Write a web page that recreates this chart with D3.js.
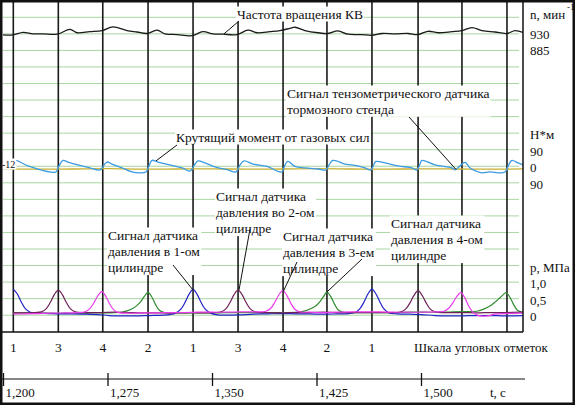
<!DOCTYPE html>
<html>
<head>
<meta charset="utf-8">
<script src="https://cdn.jsdelivr.net/npm/d3@7"></script>
<style>
  body { margin: 0; background: #fff; }
  svg { display: block; }
  svg text { font-family: "Liberation Serif", "Times New Roman", "DejaVu Serif", serif; }
</style>
</head>
<body>
<div id="chart"></div>
<script>
// angle marks (s) and cylinder numbers, firing order 1-3-4-2
const angleMarks = [1.2074, 1.2397, 1.2716, 1.3041, 1.3364, 1.3687, 1.4010, 1.4325, 1.4648, 1.4979, 1.5294, 1.5617];
const cylinders = [1, 3, 4, 2, 1, 3, 4, 2, 1, 3, 4, 2];
const shownMarks = 9;

const timeTicks = [1.2, 1.275, 1.35, 1.425, 1.5];
const rpmTicks = [930, 885];
const torqueTicks = [90, 0, -90];
const pressureTicks = [1.0, 0.5, 0];

// crankshaft speed, min^-1
const rpm = [
  [1.2000, 927], [1.2072, 927], [1.2144, 934], [1.2215, 930], [1.2287, 930], [1.2388, 929],
  [1.2481, 942], [1.2531, 933], [1.2624, 936], [1.2711, 939], [1.2789, 949], [1.2890, 939],
  [1.2962, 935], [1.3034, 931], [1.3105, 940], [1.3163, 930], [1.3249, 928], [1.3356, 925],
  [1.3435, 936], [1.3507, 930], [1.3579, 929], [1.3679, 928], [1.3758, 940], [1.3823, 933],
  [1.3916, 936], [1.3988, 939], [1.4060, 945], [1.4096, 948], [1.4167, 939], [1.4261, 933],
  [1.4333, 931], [1.4404, 938], [1.4476, 929], [1.4577, 928], [1.4648, 926], [1.4720, 931],
  [1.4813, 930], [1.4907, 931], [1.4978, 928], [1.5050, 937], [1.5122, 933], [1.5222, 936],
  [1.5294, 939], [1.5366, 947], [1.5438, 939], [1.5531, 935], [1.5617, 931], [1.5675, 939],
  [1.5732, 934]
];

// torque from gas forces, N*m
const torque = [
  [1.2007, 2], [1.2050, 18], [1.2093, 32], [1.2122, 23], [1.2179, 2], [1.2251, -15], [1.2337, -31], [1.2380, -31],
  [1.2402, 2], [1.2431, 32], [1.2466, 23], [1.2538, 7], [1.2624, -9], [1.2696, -20],
  [1.2725, 7], [1.2746, 23], [1.2782, 12], [1.2854, -9], [1.2926, -31], [1.2983, -36], [1.3026, -31],
  [1.3048, 2], [1.3069, 32], [1.3112, 23], [1.3199, 7], [1.3285, -9], [1.3342, -26],
  [1.3378, 12], [1.3400, 29], [1.3450, 18], [1.3522, -4], [1.3615, -20], [1.3672, -31],
  [1.3701, 7], [1.3730, 29], [1.3794, 12], [1.3895, -1], [1.3974, -28], [1.4002, -31],
  [1.4024, 7], [1.4045, 26], [1.4096, -1], [1.4167, -9], [1.4261, -15], [1.4318, -20],
  [1.4340, 7], [1.4368, 32], [1.4455, 12], [1.4505, 7], [1.4598, -9], [1.4641, -20],
  [1.4663, 12], [1.4677, 26], [1.4742, 18], [1.4835, 2], [1.4935, -9], [1.4971, -20],
  [1.4993, 12], [1.5007, 32], [1.5100, 7], [1.5222, -9], [1.5244, -20],
  [1.5280, 2], [1.5316, 21], [1.5352, -9], [1.5395, -26], [1.5438, -36], [1.5495, -31], [1.5553, -36], [1.5603, -31],
  [1.5632, 12], [1.5653, 32], [1.5696, 18], [1.5732, 7]
];

// brake stand strain gauge signal
const brake = [
  [1.200, -14], [1.225, -16], [1.250, -15], [1.275, -13], [1.300, -16], [1.325, -15], [1.350, -14], [1.375, -16],
  [1.400, -15], [1.425, -13], [1.450, -15], [1.475, -16], [1.500, -14], [1.525, -15], [1.550, -16], [1.575, -14]
];

// cylinder pressure, MPa
const p1 = [
  [1.2074, 0.79], [1.2103, 0.64], [1.2131, 0.40], [1.2160, 0.20], [1.2196, 0.09], [1.2250, 0.06], [1.2330, 0.05],
  [1.2420, 0.04], [1.2500, 0.04], [1.2600, 0.03], [1.2680, 0.02], [1.2760, -0.01], [1.2850, -0.02], [1.2950, -0.02],
  [1.3050, -0.01], [1.3150, 0.00], [1.3200, 0.02], [1.3242, 0.07], [1.3278, 0.19], [1.3307, 0.39], [1.3335, 0.63],
  [1.3364, 0.78], [1.3393, 0.63], [1.3421, 0.39], [1.3450, 0.19], [1.3486, 0.07], [1.3540, 0.01], [1.3620, 0.00],
  [1.3700, 0.01], [1.3800, 0.03], [1.3900, 0.04], [1.4000, 0.05], [1.4100, 0.04], [1.4200, 0.04], [1.4300, 0.03],
  [1.4400, 0.04], [1.4480, 0.05], [1.4526, 0.08], [1.4562, 0.20], [1.4591, 0.40], [1.4619, 0.64], [1.4648, 0.79],
  [1.4677, 0.64], [1.4705, 0.40], [1.4734, 0.19], [1.4770, 0.07], [1.4830, 0.04], [1.4920, 0.03], [1.5000, 0.02],
  [1.5100, -0.01], [1.5200, -0.02], [1.5300, -0.02], [1.5400, -0.01], [1.5500, -0.01], [1.5600, -0.02], [1.5730, -0.01]
];
const p2 = [
  [1.2074, 0.07], [1.2150, 0.07], [1.2250, 0.07], [1.2350, 0.06], [1.2450, 0.06], [1.2550, 0.06], [1.2650, 0.07],
  [1.2750, 0.07], [1.2850, 0.09], [1.2890, 0.13], [1.2930, 0.20], [1.2960, 0.29], [1.2987, 0.40], [1.3013, 0.56],
  [1.3041, 0.69], [1.3068, 0.55], [1.3095, 0.32], [1.3122, 0.15], [1.3160, 0.08], [1.3250, 0.06], [1.3350, 0.07],
  [1.3450, 0.07], [1.3550, 0.07], [1.3650, 0.08], [1.3750, 0.08], [1.3850, 0.08], [1.3950, 0.08], [1.4050, 0.08],
  [1.4130, 0.10], [1.4175, 0.14], [1.4215, 0.21], [1.4250, 0.30], [1.4275, 0.41], [1.4300, 0.56], [1.4325, 0.70],
  [1.4353, 0.56], [1.4381, 0.32], [1.4408, 0.15], [1.4445, 0.09], [1.4530, 0.08], [1.4630, 0.08], [1.4730, 0.08],
  [1.4830, 0.08], [1.4930, 0.09], [1.5030, 0.09], [1.5130, 0.09], [1.5230, 0.10], [1.5320, 0.11], [1.5400, 0.12],
  [1.5455, 0.19], [1.5500, 0.29], [1.5535, 0.41], [1.5560, 0.50], [1.5585, 0.60], [1.5610, 0.68], [1.5637, 0.55],
  [1.5665, 0.32], [1.5692, 0.15], [1.5730, 0.09]
];
const p3 = [
  [1.2074, 0.08], [1.2150, 0.07], [1.2230, 0.08], [1.2275, 0.10], [1.2311, 0.20], [1.2340, 0.39], [1.2368, 0.62],
  [1.2397, 0.76], [1.2426, 0.62], [1.2454, 0.39], [1.2483, 0.20], [1.2519, 0.10], [1.2600, 0.08], [1.2700, 0.08],
  [1.2800, 0.09], [1.2900, 0.08], [1.3000, 0.07], [1.3100, 0.07], [1.3200, 0.07], [1.3300, 0.08], [1.3400, 0.07],
  [1.3500, 0.08], [1.3565, 0.10], [1.3601, 0.20], [1.3630, 0.39], [1.3658, 0.62], [1.3687, 0.76], [1.3716, 0.62],
  [1.3744, 0.39], [1.3773, 0.20], [1.3809, 0.10], [1.3900, 0.08], [1.4000, 0.07], [1.4100, 0.08], [1.4200, 0.08],
  [1.4300, 0.09], [1.4400, 0.08], [1.4500, 0.08], [1.4600, 0.08], [1.4700, 0.08], [1.4800, 0.08], [1.4857, 0.10],
  [1.4893, 0.20], [1.4922, 0.38], [1.4950, 0.60], [1.4979, 0.74], [1.5008, 0.60], [1.5036, 0.38], [1.5065, 0.19],
  [1.5101, 0.10], [1.5200, 0.08], [1.5300, 0.08], [1.5400, 0.07], [1.5500, 0.08], [1.5600, 0.08], [1.5730, 0.09]
];
const p4 = [
  [1.2074, 0.03], [1.2150, 0.04], [1.2250, 0.05], [1.2350, 0.06], [1.2440, 0.07], [1.2530, 0.08], [1.2587, 0.10],
  [1.2623, 0.20], [1.2652, 0.37], [1.2680, 0.58], [1.2709, 0.71], [1.2738, 0.57], [1.2766, 0.34], [1.2795, 0.16],
  [1.2831, 0.08], [1.2900, 0.06], [1.3000, 0.07], [1.3100, 0.07], [1.3200, 0.08], [1.3300, 0.08], [1.3400, 0.09],
  [1.3500, 0.09], [1.3600, 0.09], [1.3700, 0.10], [1.3800, 0.10], [1.3886, 0.12], [1.3922, 0.21], [1.3951, 0.39],
  [1.3979, 0.61], [1.4008, 0.74], [1.4037, 0.60], [1.4065, 0.37], [1.4094, 0.18], [1.4130, 0.10], [1.4200, 0.09],
  [1.4300, 0.08], [1.4400, 0.09], [1.4500, 0.10], [1.4600, 0.10], [1.4700, 0.10], [1.4800, 0.09], [1.4900, 0.09],
  [1.5000, 0.09], [1.5100, 0.10], [1.5163, 0.12], [1.5199, 0.21], [1.5228, 0.37], [1.5256, 0.56], [1.5285, 0.68],
  [1.5314, 0.53], [1.5342, 0.28], [1.5371, 0.10], [1.5400, 0.01], [1.5440, -0.03], [1.5480, -0.02], [1.5530, 0.03],
  [1.5600, 0.05], [1.5730, 0.06]
];

const width = 575, height = 405;
const plot = {left: 3, right: 523, top: 0, bottom: 332};
const serif = "Liberation Serif, Times New Roman, DejaVu Serif, serif";

const svg = d3.select("#chart").append("svg")
  .attr("width", width)
  .attr("height", height)
  .attr("font-family", serif);

const x = d3.scaleLinear().domain([1.2, 1.575]).range([3, 525.5]);
// 19 green grid rows; every trace is pinned to them
const grid = d3.scaleLinear().domain([0, 18]).range([17.3, 315.2]);
const yRpm = d3.scaleLinear().domain([930, 885]).range([grid(1), grid(2)]);
const yTorque = d3.scaleLinear().domain([90, -90]).range([grid(8), grid(10)]);
const yP = d3.scaleLinear().domain([1, 0]).range([grid(16), grid(18)]);

svg.append("clipPath").attr("id", "clip")
  .append("rect")
  .attr("x", plot.left).attr("y", plot.top)
  .attr("width", plot.right - plot.left).attr("height", plot.bottom - plot.top);

// grid
svg.append("g")
  .selectAll("line")
  .data(d3.range(19))
  .join("line")
  .attr("x1", plot.left).attr("x2", plot.right - 4)
  .attr("y1", d => grid(d)).attr("y2", d => grid(d))
  .attr("stroke", "#a9d6a2")
  .attr("stroke-width", 1);

// angle marks
svg.append("g")
  .selectAll("line")
  .data(angleMarks)
  .join("line")
  .attr("x1", d => x(d)).attr("x2", d => x(d))
  .attr("y1", plot.top).attr("y2", plot.bottom)
  .attr("stroke", "#1a1a1a")
  .attr("stroke-width", 1.6);

const curves = svg.append("g").attr("clip-path", "url(#clip)");

function trace(data, yScale, color, w) {
  curves.append("path")
    .datum(data)
    .attr("fill", "none")
    .attr("stroke", color)
    .attr("stroke-width", w)
    .attr("stroke-linejoin", "round")
    .attr("d", d3.line()
      .x(d => x(d[0]))
      .y(d => yScale(d[1]))
      .curve(d3.curveCatmullRom.alpha(0.5)));
}

trace(rpm, yRpm, "#1a1a1a", 1.3);
trace(brake, yTorque, "#c8b030", 1.3);
trace(torque, yTorque, "#3d9be0", 1.3);
trace(p2, yP, "#2e8b2e", 1.2);
trace(p1, yP, "#2323c8", 1.2);
trace(p3, yP, "#6e2258", 1.2);
trace(p4, yP, "#ec3bec", 1.2);

// annotations: text placed in pixels, leader ends on the data
const notes = [
  {lines: ["Частота вращения КВ"], x: 237, y: 18.5, from: [239, 21], to: [1.3586, yRpm(930)]},
  {lines: ["Сигнал тензометрического датчика", "тормозного стенда"], x: 287, y: 97.5, from: [409, 117], to: [1.5251, yTorque(-17)]},
  {lines: ["Крутящий момент от газовых сил"], x: 176, y: 141.5, from: [177, 145], to: [1.3098, yTorque(29)]},
  {lines: ["Сигнал датчика", "давления во 2-ом", "цилиндре"], x: 216, y: 200.5, from: [250, 229], to: [1.3694, yP(0.76)]},
  {lines: ["Сигнал датчика", "давления в 4-ом", "цилиндре"], x: 391, y: 227.5, from: [362, 259], to: [1.4325, yP(0.70)]},
  {lines: ["Сигнал датчика", "давления в 1-ом", "цилиндре"], x: 108, y: 239.5, from: [173, 265], to: [1.3364, yP(0.76)]},
  {lines: ["Сигнал датчика", "давления в 3-ем", "цилиндре"], x: 283, y: 240.5, from: [297, 262], to: [1.4010, yP(0.70)]}
];

const noteG = svg.append("g");
notes.forEach(n => {
  const g = noteG.append("g");
  const t = g.append("text")
    .attr("font-size", 13.5)
    .attr("fill", "#111");
  n.lines.forEach((s, i) => {
    t.append("tspan").attr("x", n.x).attr("y", n.y + i * 16.3).text(s);
  });
  const b = t.node().getBBox();
  g.insert("rect", "text")
    .attr("x", b.x - 1).attr("y", b.y)
    .attr("width", b.width + 2).attr("height", b.height)
    .attr("fill", "#fff");
});
notes.forEach(n => {
  noteG.append("line")
    .attr("x1", n.from[0]).attr("y1", n.from[1])
    .attr("x2", x(n.to[0])).attr("y2", n.to[1])
    .attr("stroke", "#111")
    .attr("stroke-width", 1);
});

// "-12" tag at left edge
const tagG = svg.append("g");
const tag = tagG.append("text")
  .attr("x", 2).attr("y", 167.5)
  .attr("font-size", 10)
  .attr("fill", "#111")
  .text("-12");
const tb = tag.node().getBBox();
tagG.insert("rect", "text")
  .attr("x", tb.x).attr("y", tb.y).attr("width", tb.width + 1).attr("height", tb.height)
  .attr("fill", "#fff");

// frame
svg.append("line")
  .attr("x1", plot.right).attr("x2", plot.right)
  .attr("y1", 0).attr("y2", plot.bottom)
  .attr("stroke", "#111").attr("stroke-width", 1.5);
svg.append("line")
  .attr("x1", 0).attr("x2", plot.right)
  .attr("y1", plot.bottom).attr("y2", plot.bottom)
  .attr("stroke", "#111").attr("stroke-width", 1.5);
svg.append("rect")
  .attr("x", 1.25).attr("y", 1.25)
  .attr("width", width - 2.5).attr("height", height - 2.5)
  .attr("fill", "none")
  .attr("stroke", "#111")
  .attr("stroke-width", 2.5);

// right-hand scale labels
const right = svg.append("g").attr("font-size", 13).attr("fill", "#111");
right.append("text").attr("x", 530).attr("y", 18.5).text("n, мин");
right.append("text").attr("x", 567).attr("y", 10).attr("font-size", 9).text("-1");
right.selectAll(".rpm").data(rpmTicks).join("text")
  .attr("x", 530).attr("y", d => yRpm(d) + 5).text(d => d);
right.append("text").attr("x", 530).attr("y", grid(7) + 6).text("Н*м");
right.selectAll(".tq").data(torqueTicks).join("text")
  .attr("x", 530).attr("y", d => yTorque(d) + 6).text(d => Math.abs(d));
right.append("text").attr("x", 530).attr("y", grid(15) + 6).text("р, МПа");
const ruLocale = d3.formatLocale({decimal: ",", thousands: " ", grouping: [3], currency: ["", ""]});
right.selectAll(".pr").data(pressureTicks).join("text")
  .attr("x", 530).attr("y", d => yP(d) + 6).text(d => d === 0 ? "0" : ruLocale.format(".1f")(d));

// angle mark scale
const marksRow = svg.append("g").attr("font-size", 13.5).attr("fill", "#111");
marksRow.selectAll("text")
  .data(angleMarks.slice(0, shownMarks))
  .join("text")
  .attr("x", d => x(d))
  .attr("y", 351.5)
  .attr("text-anchor", "middle")
  .text((d, i) => cylinders[i]);
marksRow.append("text").attr("x", 414).attr("y", 351.5).attr("font-size", 13).text("Шкала угловых отметок");

// time axis
const axis = d3.axisBottom(x).tickValues(timeTicks).tickFormat(ruLocale.format(".3f")).tickSizeOuter(0);
const gAxis = svg.append("g")
  .attr("transform", "translate(0,379)")
  .call(axis)
  .attr("font-family", serif)
  .attr("font-size", 13);
gAxis.select(".domain").remove();
gAxis.insert("line", ":first-child")
  .attr("x1", 0).attr("x2", 525)
  .attr("stroke", "#111").attr("stroke-width", 1.2);
gAxis.selectAll(".tick line")
  .attr("y1", -6).attr("y2", 7)
  .attr("stroke", "#111").attr("stroke-width", 1.3);
gAxis.selectAll(".tick text")
  .attr("x", 2).attr("y", 17.5).attr("dy", null)
  .attr("text-anchor", "start")
  .attr("fill", "#111");
svg.append("text").attr("x", 490).attr("y", 396.5).attr("font-size", 13).attr("fill", "#111").text("t, с");
</script>
</body>
</html>
